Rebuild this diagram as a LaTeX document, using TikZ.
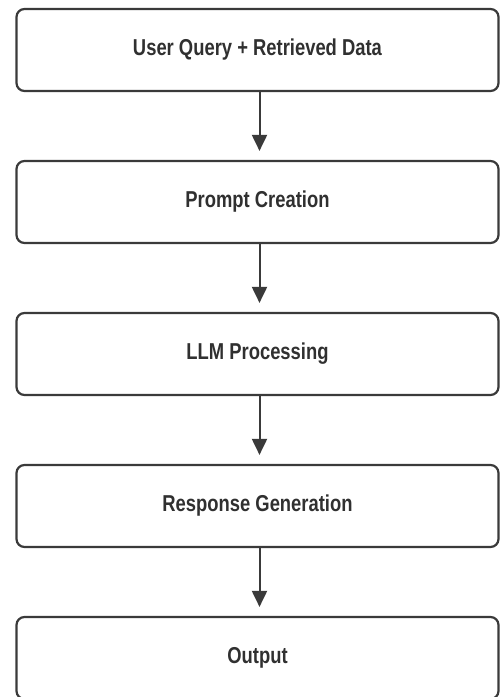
\documentclass[tikz,border=0pt]{standalone}
\usepackage{fontspec}
\setmainfont{Liberation Sans}
\usetikzlibrary{arrows.meta}
\definecolor{linegray}{HTML}{3A3A3A}
\definecolor{textgray}{HTML}{303030}
\tikzset{
  stagebox/.style={draw=linegray, line width=2.2pt, rounded corners=8pt,
    minimum width=482pt, minimum height=82pt, inner sep=0pt,
    font=\fontsize{23pt}{26pt}\selectfont\bfseries, text=textgray},
  flowarrow/.style={draw=linegray, line width=2pt,
    -{Triangle[width=15pt,length=16pt]}, shorten >=9pt}
}
\newcommand{\narrow}[1]{\scalebox{0.8}[1]{#1}}
\begin{document}
\begin{tikzpicture}[x=1pt,y=-1pt]
  \useasboundingbox (0,0) rectangle (499,697);
  \node[stagebox] (query)    at (257.5,50)  {\narrow{User Query + Retrieved Data}};
  \node[stagebox] (prompt)   at (257.5,202) {\narrow{Prompt Creation}};
  \node[stagebox] (llm)      at (257.5,354) {\narrow{LLM Processing}};
  \node[stagebox] (response) at (257.5,506) {\narrow{Response Generation}};
  \node[stagebox] (output)   at (257.5,658) {\narrow{Output}};
  \draw[flowarrow] ([xshift=2pt]query.south)    -- ([xshift=2pt]prompt.north);
  \draw[flowarrow] ([xshift=2pt]prompt.south)   -- ([xshift=2pt]llm.north);
  \draw[flowarrow] ([xshift=2pt]llm.south)      -- ([xshift=2pt]response.north);
  \draw[flowarrow] ([xshift=2pt]response.south) -- ([xshift=2pt]output.north);
\end{tikzpicture}
\end{document}
